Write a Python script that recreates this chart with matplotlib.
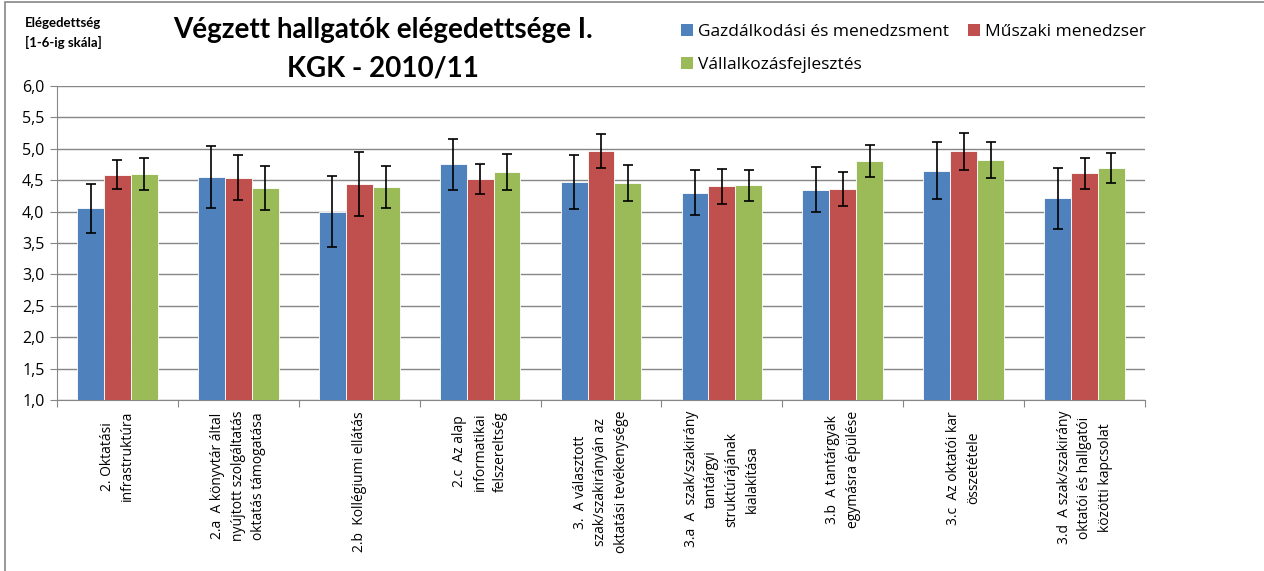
import matplotlib
matplotlib.use("Agg")
import matplotlib.pyplot as plt
from matplotlib.patches import Patch, Rectangle
from matplotlib.ticker import FuncFormatter, FixedLocator
import numpy as np

plt.rcParams['font.family'] = ['Lato', 'DejaVu Sans']

categories = [
    "2. Oktatási\ninfrastruktúra",
    "2.a  A könyvtár által\nnyújtott szolgáltatás\noktatás támogatása",
    "2.b  Kollégiumi ellátás",
    "2.c  Az alap\ninformatikai\nfelszereltség",
    "3.  A választott\nszak/szakirányán az\noktatási tevékenysége",
    "3.a  A  szak/szakirány\ntantárgyi\nstruktúrájának\nkialakítása",
    "3.b  A tantárgyak\negymásra épülése",
    "3.c  Az oktatói kar\nösszetétele",
    "3.d  A szak/szakirány\noktatói és hallgatói\nközötti kapcsolat",
]

series_names = ["Gazdálkodási és menedzsment", "Műszaki menedzser", "Vállalkozásfejlesztés"]
colors = ["#4F81BD", "#C0504D", "#9BBB59"]

gm_values = [4.05, 4.55, 4.00, 4.75, 4.47, 4.30, 4.35, 4.65, 4.21]
mm_values = [4.59, 4.54, 4.44, 4.52, 4.97, 4.40, 4.36, 4.96, 4.61]
vf_values = [4.60, 4.37, 4.39, 4.63, 4.46, 4.42, 4.80, 4.82, 4.70]

gm_err = [0.39, 0.50, 0.565, 0.40, 0.43, 0.355, 0.36, 0.455, 0.485]
mm_err = [0.23, 0.36, 0.51, 0.24, 0.27, 0.28, 0.27, 0.29, 0.25]
vf_err = [0.26, 0.35, 0.34, 0.28, 0.29, 0.25, 0.255, 0.29, 0.24]

values = [gm_values, mm_values, vf_values]
errors = [gm_err, mm_err, vf_err]

fig = plt.figure(figsize=(12.64, 5.71), dpi=100)
ax = fig.add_axes([57 / 1264, 1 - 400 / 571, (1145 - 57) / 1264, (400 - 86) / 571])

x = np.arange(len(categories))
width = 1 / 4.5
handles = []
for i, (vals, errs) in enumerate(zip(values, errors)):
    pos = x + (i - 1) * width
    ax.bar(pos, np.array(vals) - 1, width, bottom=1, color=colors[i],
           edgecolor="white", linewidth=0.6, zorder=3)
    ax.errorbar(pos, vals, yerr=errs, fmt="none", ecolor="black",
                elinewidth=1.2, capsize=3.5, capthick=1.2, zorder=4)
    handles.append(Patch(facecolor=colors[i], label=series_names[i]))

ax.set_xlim(-0.5, len(categories) - 0.5)
ax.set_ylim(1.0, 6.0)
ax.set_yticks(np.arange(1.0, 6.01, 0.5))
ax.yaxis.set_major_formatter(FuncFormatter(lambda v, p: f"{v:.1f}".replace(".", ",")))
ax.tick_params(axis="y", labelsize=11.5, length=5, color="#868686", pad=4)
for lbl in ax.get_yticklabels():
    lbl.set_fontfamily(['Open Sans', 'DejaVu Sans'])

ax.xaxis.set_major_locator(FixedLocator(np.arange(-0.5, len(categories), 1.0)))
ax.set_xticklabels([])
ax.tick_params(axis="x", length=5, color="#868686")
for xi, cat in zip(x, categories):
    ax.text(xi, -0.035, cat, transform=ax.get_xaxis_transform(), rotation=90,
            ha="center", va="top", multialignment="center", fontsize=10,
            family=['Open Sans', 'DejaVu Sans'], linespacing=1.5)

ax.grid(axis="y", color="#868686", linewidth=1.0, zorder=0)
for side in ["top", "right"]:
    ax.spines[side].set_visible(False)
ax.spines["left"].set_color("#868686")
ax.spines["bottom"].set_color("#868686")

fig.text(383 / 1264, 1 - 49 / 571, "Végzett hallgatók elégedettsége I.\nKGK - 2010/11",
         ha="center", va="center", fontsize=20, fontweight="bold", linespacing=1.6)
fig.text(63 / 1264, 1 - 33 / 571, "Elégedettség\n[1-6-ig skála]", ha="center", va="center",
         fontsize=9.5, fontweight="bold", linespacing=1.7)

leg = fig.legend([handles[0], handles[2], handles[1]],
                 [series_names[0], series_names[2], series_names[1]],
                 ncol=2, loc="upper left", bbox_to_anchor=(665 / 1264, 1 - 8 / 571),
                 frameon=False, fontsize=12.5, handlelength=0.7, handleheight=0.7,
                 handletextpad=0.3, columnspacing=1.1, labelspacing=1.0)
for t in leg.get_texts():
    t.set_fontfamily(['Open Sans', 'DejaVu Sans'])

fig.patches.append(Rectangle((5 / 1264, -0.1), 1.2, 1 - 2 / 571 + 0.1, transform=fig.transFigure,
                             fill=False, edgecolor="#868686", linewidth=1.2))

fig.savefig("out.png", dpi=100)
